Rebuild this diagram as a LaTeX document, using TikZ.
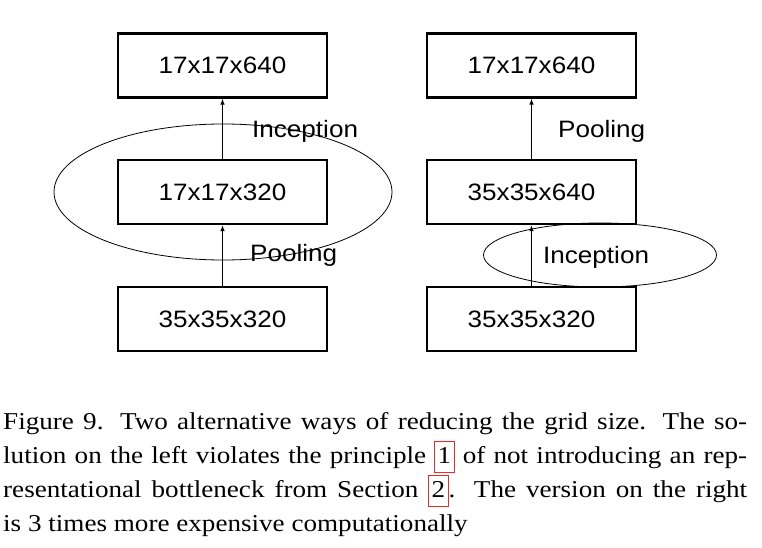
\documentclass[tikz,border=0pt]{standalone}
\usepackage{fontspec}
\setmainfont{Liberation Serif}[FakeStretch=1.12]
\newfontfamily\diagfont{Liberation Sans}[FakeStretch=1.1]
\usepackage{xcolor}
\usetikzlibrary{arrows.meta,shapes.geometric}
\definecolor{linkred}{RGB}{240,40,40}
\newcommand{\linkbox}[1]{{\setlength\fboxsep{0pt}\setlength\fboxrule{0.8pt}%
  \color{linkred}\fbox{\color{black}\kern2.5pt\rule[-8.7pt]{0pt}{30pt}#1\kern2.5pt}}}
\tikzset{%
    mapbox/.style={draw, line width=2.2pt, minimum width=209pt, minimum height=64pt,
        inner sep=0pt, font=\diagfont\fontsize{23.7}{26}\selectfont},
    oplabel/.style={anchor=base west, inner sep=0pt, font=\diagfont\fontsize{23.7}{26}\selectfont},
    flow/.style={-{Latex[length=6pt,width=4.5pt]}, line width=0.9pt},
    blockring/.style={draw, ellipse, line width=0.8pt, inner sep=0pt},
    capline/.style={anchor=base west, inner sep=0pt, font=\fontsize{24.2}{34}\selectfont}
}

\begin{document}
\begin{tikzpicture}[x=1pt,y=-1pt]
    \useasboundingbox (0,0) rectangle (762,548);
    % left: pooling first
    \node[blockring, minimum width=338pt, minimum height=136pt] (lring) at (223,192) {};
    \node[mapbox] (ltop) at (222.5,65.5) {17x17x640};
    \node[mapbox] (lmid) at (222.5,192) {17x17x320};
    \node[mapbox] (lbot) at (222.5,319) {35x35x320};
    \draw[flow] (lbot) -- (lmid);
    \draw[flow] (lmid) -- (ltop);
    \node[oplabel] (linc) at (252,138) {Inception};
    \node[oplabel] (lpool) at (250,261) {Pooling};
    % right: inception first
    \node[mapbox] (rtop) at (531.5,65.5) {17x17x640};
    \node[mapbox] (rmid) at (531.5,192) {35x35x640};
    \node[mapbox] (rbot) at (531.5,319) {35x35x320};
    \node[blockring, minimum width=233pt, minimum height=64pt] (rring) at (600,255) {};
    \draw[flow] (rbot) -- (rmid);
    \draw[flow] (rmid) -- (rtop);
    \node[oplabel] (rpool) at (558,138) {Pooling};
    \node[oplabel] (rinc) at (543,263) {Inception};
    % caption
    \node[capline] (cap1) at (3,429) {\makebox[744pt][s]{Figure 9. Two alternative ways of reducing the grid size. The so-}};
    \node[capline] (cap2) at (3,463) {\makebox[744pt][s]{lution on the left violates the principle \linkbox{1} of not introducing an rep-}};
    \node[capline] (cap3) at (3,497) {\makebox[744pt][s]{resentational bottleneck from Section \linkbox{2}. The version on the right}};
    \node[capline] (cap4) at (3,531) {is 3 times more expensive computationally};
\end{tikzpicture}
\end{document}
